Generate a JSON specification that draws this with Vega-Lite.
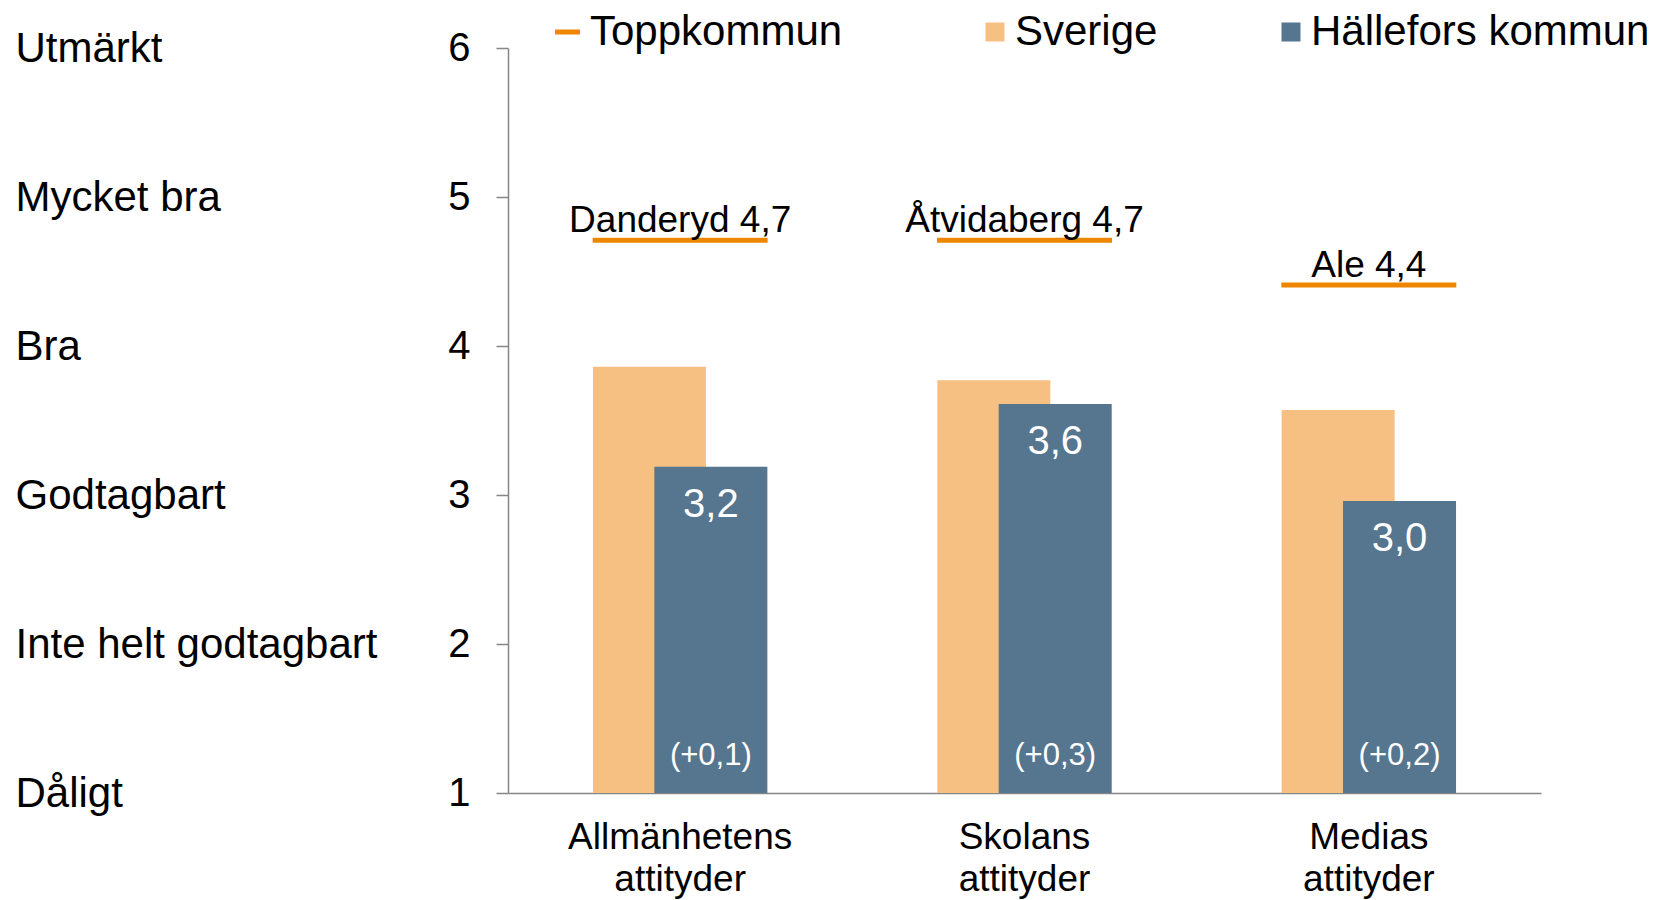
{
  "$schema": "https://vega.github.io/schema/vega-lite/v6.json",
  "width": 1033,
  "height": 745,
  "autosize": {"type": "none"},
  "padding": {"left": 508, "top": 48, "right": 120, "bottom": 107},
  "background": "white",
  "config": {
    "view": {"stroke": null},
    "font": "Liberation Sans",
    "axis": {"grid": false, "labelFont": "Liberation Sans", "labelColor": "#000000", "domainColor": "#868686", "domainWidth": 1.5, "tickColor": "#868686", "tickWidth": 1.5, "labelOverlap": false, "labelFlush": false, "labelBound": false, "labelLimit": 0},
    "legend": {"labelFont": "Liberation Sans", "labelColor": "#000000", "labelFontSize": 42, "padding": 0, "titlePadding": 0, "labelLimit": 0}
  },
  "datasets": {
    "staplar": [
      {"kategori": "Allmänhetens attityder", "serie": "Sverige", "varde": 3.86},
      {"kategori": "Allmänhetens attityder", "serie": "Hällefors kommun", "varde": 3.19, "etikett": "3,2", "forandring": "(+0,1)"},
      {"kategori": "Skolans attityder", "serie": "Sverige", "varde": 3.77},
      {"kategori": "Skolans attityder", "serie": "Hällefors kommun", "varde": 3.61, "etikett": "3,6", "forandring": "(+0,3)"},
      {"kategori": "Medias attityder", "serie": "Sverige", "varde": 3.57},
      {"kategori": "Medias attityder", "serie": "Hällefors kommun", "varde": 2.96, "etikett": "3,0", "forandring": "(+0,2)"}
    ],
    "topp": [
      {"kategori": "Allmänhetens attityder", "kommun": "Danderyd", "topp": 4.71, "toppetikett": "Danderyd 4,7"},
      {"kategori": "Skolans attityder", "kommun": "Åtvidaberg", "topp": 4.71, "toppetikett": "Åtvidaberg 4,7"},
      {"kategori": "Medias attityder", "kommun": "Ale", "topp": 4.41, "toppetikett": "Ale 4,4"}
    ]
  },
  "encoding": {
    "x": {
      "field": "kategori",
      "type": "nominal",
      "sort": ["Allmänhetens attityder", "Skolans attityder", "Medias attityder"],
      "scale": {"paddingInner": 0, "paddingOuter": 0},
      "axis": {"title": null, "ticks": false, "tickSize": 0, "labelAngle": 0, "labelExpr": "split(datum.label, ' ')", "labelFontSize": 37, "labelLineHeight": 42, "labelBaseline": "top", "labelPadding": 26, "domain": true}
    }
  },
  "layer": [
    {
      "layer": [
        {
          "data": {"name": "staplar"},
          "transform": [{"filter": "datum.serie === 'Sverige'"}],
          "mark": {"type": "bar", "width": 113, "xOffset": -30.7},
          "encoding": {
            "y": {"field": "varde", "type": "quantitative", "scale": {"domain": [1, 6], "nice": false, "zero": false},
              "axis": {"title": null, "orient": "left", "values": [1, 2, 3, 4, 5, 6], "format": "d", "tickSize": 12, "labelPadding": 26, "labelFontSize": 40, "labelBaseline": "middle", "domain": true, "ticks": true}},
            "y2": {"datum": 1},
            "color": {"field": "serie", "type": "nominal",
              "scale": {"domain": ["Sverige", "Hällefors kommun"], "range": ["#F6C083", "#56758F"]},
              "legend": {"title": null, "orient": "none", "direction": "horizontal", "legendX": 466, "legendY": -37, "symbolType": "square", "symbolSize": 361, "symbolStrokeWidth": 0, "labelOffset": -1, "columnPadding": 112}}
          }
        },
        {
          "data": {"name": "staplar"},
          "transform": [{"filter": "datum.serie === 'Hällefors kommun'"}],
          "mark": {"type": "bar", "width": 113, "xOffset": 30.7},
          "encoding": {
            "y": {"field": "varde", "type": "quantitative", "scale": {"domain": [1, 6], "nice": false, "zero": false}},
            "y2": {"datum": 1},
            "color": {"field": "serie", "type": "nominal",
              "scale": {"domain": ["Sverige", "Hällefors kommun"], "range": ["#F6C083", "#56758F"]}}
          }
        }
      ]
    },
    {
      "data": {"name": "topp"},
      "mark": {"type": "tick", "size": 175, "thickness": 5, "opacity": 1},
      "encoding": {
        "y": {"field": "topp", "type": "quantitative", "scale": {"domain": [1, 6], "nice": false, "zero": false},
          "axis": {"title": null, "orient": "left", "offset": 493, "values": [1, 2, 3, 4, 5, 6],
            "labelExpr": "['', 'Dåligt', 'Inte helt godtagbart', 'Godtagbart', 'Bra', 'Mycket bra', 'Utmärkt'][datum.value]",
            "labelAlign": "left", "labelBaseline": "middle", "labelFontSize": 42, "domain": false, "ticks": false, "tickSize": 0, "labelPadding": 0}},
        "color": {"datum": "Toppkommun", "scale": {"range": ["#EE8600"]},
          "legend": {"title": null, "orient": "none", "legendX": 38.5, "legendY": -37, "symbolType": "M-1,-0.2L1,-0.2L1,0.2L-1,0.2Z", "symbolSize": 625, "symbolStrokeWidth": 0, "symbolOpacity": 1, "labelOffset": 1.5}}
      }
    },
    {
      "data": {"name": "topp"},
      "mark": {"type": "text", "dy": -19, "fontSize": 37, "baseline": "middle", "align": "center", "color": "#000000"},
      "encoding": {
        "y": {"field": "topp", "type": "quantitative", "scale": {"domain": [1, 6], "nice": false, "zero": false}, "axis": null},
        "text": {"field": "toppetikett"}
      }
    },
    {
      "data": {"name": "staplar"},
      "transform": [{"filter": "datum.serie === 'Hällefors kommun'"}],
      "mark": {"type": "text", "xOffset": 30.7, "dy": 38, "fontSize": 40, "baseline": "middle", "align": "center", "color": "#FFFFFF"},
      "encoding": {
        "y": {"field": "varde", "type": "quantitative", "scale": {"domain": [1, 6], "nice": false, "zero": false}, "axis": null},
        "text": {"field": "etikett"}
      }
    },
    {
      "data": {"name": "staplar"},
      "transform": [{"filter": "datum.serie === 'Hällefors kommun'"}],
      "mark": {"type": "text", "xOffset": 30.7, "dy": -37, "fontSize": 31, "baseline": "middle", "align": "center", "color": "#FFFFFF"},
      "encoding": {
        "y": {"datum": 1, "type": "quantitative", "scale": {"domain": [1, 6], "nice": false, "zero": false}, "axis": null},
        "text": {"field": "forandring"}
      }
    }
  ],
  "resolve": {"scale": {"color": "independent"}, "axis": {"y": "independent"}}
}
